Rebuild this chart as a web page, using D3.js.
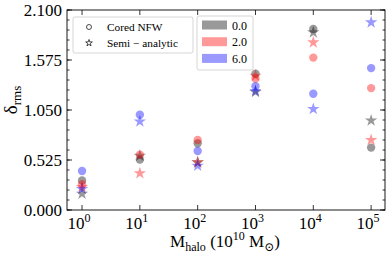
<!DOCTYPE html>
<html>
<head>
<meta charset="utf-8">
<script src="https://cdn.jsdelivr.net/npm/d3@7"></script>
<style>
  body { margin: 0; background: #fff; }
  svg text { font-family: "Liberation Serif", "DejaVu Serif", serif; }
</style>
</head>
<body>
<div id="chart"></div>
<script>
// halo masses in 10^10 Msun
const masses = [1, 10, 100, 1000, 10000, 100000];
const seriesNames = ['0.0', '2.0', '6.0'];
const seriesColors = ['#000000', '#ff0000', '#0000ff'];

// cored NFW (circles)
const coredNFW = [
    [0.31, 0.53, 0.70, 1.43, 1.90, 0.655],
    [0.27, 0.58, 0.735, 1.38, 1.60, 1.28],
    [0.41, 1.00, 0.62, 1.30, 1.22, 1.49]
];
// semi-analytic (stars)
const semiAnalytic = [
    [0.17, 0.57, 0.50, 1.24, 1.865, 0.94],
    [0.24, 0.385, 0.50, 1.41, 1.76, 0.735],
    [0.22, 0.93, 0.465, 1.25, 1.06, 1.97]
];
const yTicks = [0, 0.525, 1.05, 1.575, 2.1];

const width = 389, height = 258;
const margin = { left: 67, right: 4, top: 10, bottom: 48 };

const svg = d3.select('#chart').append('svg')
    .attr('width', width).attr('height', height);

const x = d3.scaleLog()
    .domain([Math.pow(10, -0.26), Math.pow(10, 5.24)])
    .range([margin.left, width - margin.right]);
const y = d3.scaleLinear()
    .domain([0, 2.1])
    .range([height - margin.bottom, margin.top]);

const x0 = margin.left, x1 = width - margin.right;
const y0 = height - margin.bottom, y1 = margin.top;

// minor y ticks (inward, left and right)
const minorY = d3.range(0, 2.1001, 0.105);
const g = svg.append('g').attr('stroke', '#000').attr('stroke-width', 0.8);
minorY.forEach((v) => {
    g.append('line').attr('x1', x0).attr('x2', x0 + 2.5).attr('y1', y(v)).attr('y2', y(v));
    g.append('line').attr('x1', x1).attr('x2', x1 - 2.5).attr('y1', y(v)).attr('y2', y(v));
});
yTicks.forEach((v) => {
    g.append('line').attr('x1', x0).attr('x2', x0 + 5).attr('y1', y(v)).attr('y2', y(v));
    g.append('line').attr('x1', x1).attr('x2', x1 - 5).attr('y1', y(v)).attr('y2', y(v));
});
masses.forEach((m) => {
    g.append('line').attr('x1', x(m)).attr('x2', x(m)).attr('y1', y0).attr('y2', y0 - 5);
    g.append('line').attr('x1', x(m)).attr('x2', x(m)).attr('y1', y1).attr('y2', y1 + 5);
});

// tick labels
svg.selectAll('.ylab').data(yTicks).enter().append('text')
    .attr('x', x0 - 5).attr('y', (d) => y(d) + 6)
    .attr('text-anchor', 'end').style('font-size', '17px')
    .text((d) => d.toFixed(3));

masses.forEach((m, i) => {
    const t = svg.append('text')
        .attr('x', x(m) - 3).attr('y', y0 + 19)
        .attr('text-anchor', 'middle').style('font-size', '17px');
    t.append('tspan').text('10');
    t.append('tspan').attr('dy', -7).style('font-size', '12px').text(i);
});

// axis labels
const xl = svg.append('text')
    .attr('x', 225).attr('y', 247)
    .attr('text-anchor', 'middle').style('font-size', '17px');
xl.append('tspan').text('M');
xl.append('tspan').attr('dy', 4).style('font-size', '12px').text('halo');
xl.append('tspan').attr('dy', -4).text(' (10');
xl.append('tspan').attr('dy', -7).style('font-size', '12px').text('10');
xl.append('tspan').attr('dy', 7).text(' M');
xl.append('tspan').attr('dy', 4).style('font-size', '12px').text('\u2299');
xl.append('tspan').attr('dy', -4).text(')');

const yl = svg.append('text')
    .attr('transform', 'translate(17,100) rotate(-90)')
    .attr('text-anchor', 'middle').style('font-size', '19px');
yl.append('tspan').text('\u03b4');
yl.append('tspan').attr('dy', 4).style('font-size', '13px').text('rms');

// data markers
const star = d3.symbol().type(d3.symbolStar).size(48);
seriesNames.forEach((s, i) => {
    svg.append('g').selectAll('circle')
        .data(masses.map((m, j) => ({ m, v: coredNFW[i][j] })))
        .enter().append('circle')
        .attr('cx', (d) => x(d.m)).attr('cy', (d) => y(d.v))
        .attr('r', 4.2)
        .attr('fill', seriesColors[i]).attr('fill-opacity', 0.4);
    svg.append('g').selectAll('path')
        .data(masses.map((m, j) => ({ m, v: semiAnalytic[i][j] })))
        .enter().append('path')
        .attr('d', star)
        .attr('transform', (d) => `translate(${x(d.m)},${y(d.v)})`)
        .attr('fill', seriesColors[i]).attr('fill-opacity', 0.4);
});

// frame
svg.append('rect')
    .attr('x', x0).attr('y', y1).attr('width', x1 - x0).attr('height', y0 - y1)
    .attr('fill', 'none').attr('stroke', '#000').attr('stroke-width', 0.9);

// marker-type legend
const lg1 = svg.append('g');
lg1.append('rect').attr('x', 73).attr('y', 17).attr('width', 120).attr('height', 36).attr('rx', 2)
    .attr('fill', '#fff').attr('fill-opacity', 0.8).attr('stroke', '#ccc').attr('stroke-width', 0.8);
lg1.append('circle').attr('cx', 89).attr('cy', 27).attr('r', 2.5)
    .attr('fill', 'none').attr('stroke', '#000').attr('stroke-width', 0.7);
lg1.append('path').attr('d', d3.symbol().type(d3.symbolStar).size(14))
    .attr('transform', 'translate(89,43)')
    .attr('fill', 'none').attr('stroke', '#000').attr('stroke-width', 0.7);
lg1.append('text').attr('x', 107).attr('y', 31).style('font-size', '11.3px').text('Cored NFW');
lg1.append('text').attr('x', 107).attr('y', 47).style('font-size', '11.3px').text('Semi \u2212 analytic');

// series legend
const lg2 = svg.append('g');
lg2.append('rect').attr('x', 197).attr('y', 16).attr('width', 56).attr('height', 54).attr('rx', 2)
    .attr('fill', '#fff').attr('fill-opacity', 0.8).attr('stroke', '#ccc').attr('stroke-width', 0.8);
seriesNames.forEach((s, i) => {
    const cy = 25 + i * 16.7;
    lg2.append('rect').attr('x', 202).attr('y', cy - 4.5).attr('width', 25).attr('height', 9)
        .attr('fill', seriesColors[i]).attr('fill-opacity', 0.4);
    lg2.append('text').attr('x', 232).attr('y', cy + 4.5).style('font-size', '12px').text(s);
});
</script>
</body>
</html>
